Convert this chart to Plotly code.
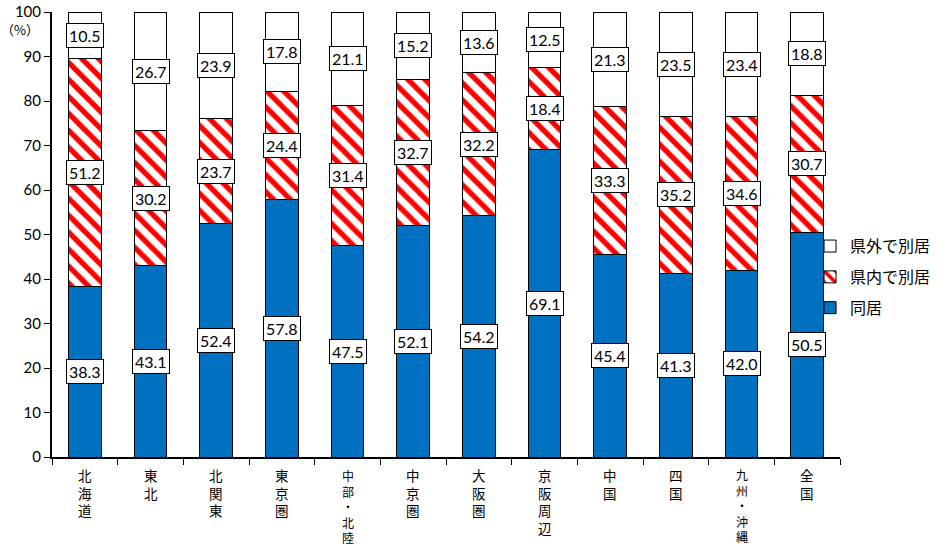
import plotly.graph_objects as go

regions = ["北海道", "東北", "北関東", "東京圏", "中部・北陸", "中京圏",
           "大阪圏", "京阪周辺", "中国", "四国", "九州・沖縄", "全国"]
living_together = [38.3, 43.1, 52.4, 57.8, 47.5, 52.1, 54.2, 69.1, 45.4, 41.3, 42.0, 50.5]
separate_in_pref = [51.2, 30.2, 23.7, 24.4, 31.4, 32.7, 32.2, 18.4, 33.3, 35.2, 34.6, 30.7]
separate_out_pref = [10.5, 26.7, 23.9, 17.8, 21.1, 15.2, 13.6, 12.5, 21.3, 23.5, 23.4, 18.8]
y_ticks = [0, 10, 20, 30, 40, 50, 60, 70, 80, 90, 100]

NUM_FONT = "Lato, Liberation Sans, sans-serif"
JP_FONT = "Noto Sans CJK JP, sans-serif"
# compact primary font for the stacked category labels (CJK glyphs fall back)
LABEL_FONT = "Liberation Sans, Noto Sans CJK JP, sans-serif"

fig = go.Figure()
line = dict(color="black", width=1)
fig.add_bar(x=regions, y=living_together, name="同居", legendgroup="a", legendrank=3,
            marker=dict(color="#0070C0", line=line))
fig.add_bar(x=regions, y=separate_in_pref, name="県内で別居", legendgroup="b", legendrank=2,
            marker=dict(color="white", line=line,
                        pattern=dict(shape="\\", fgcolor="#FF0000", bgcolor="white",
                                     size=12, solidity=0.45, fillmode="replace")))
fig.add_bar(x=regions, y=separate_out_pref, name="県外で別居", legendgroup="c", legendrank=1,
            marker=dict(color="white", line=line))

# boxed value labels at the middle of each segment
annotations = []
for i, r in enumerate(regions):
    base = 0.0
    for v in (living_together[i], separate_in_pref[i], separate_out_pref[i]):
        annotations.append(dict(
            x=r, y=base + v / 2, text=f"{v:.1f}", showarrow=False,
            font=dict(family=NUM_FONT, size=16, color="black"),
            bgcolor="white", bordercolor="black", borderwidth=1, borderpad=2,
            xref="x", yref="y"))
        base += v

# vertical category labels under the axis, one character per row
for r in regions:
    size = 12 if len(r) >= 5 else 13.5
    annotations.append(dict(
        x=r, y=0, xref="x", yref="paper", text="<br>".join(r), showarrow=False,
        xanchor="center", yanchor="top", yshift=-11, borderpad=0,
        font=dict(family=LABEL_FONT, size=size, color="black")))

annotations.append(dict(x=-0.04, y=96, xref="paper", yref="y", text="（%）",
                        showarrow=False, xanchor="center",
                        font=dict(family=JP_FONT, size=13, color="black")))

fig.update_layout(
    width=942, height=547,
    margin=dict(l=52, r=102, t=12, b=90, autoexpand=False),
    paper_bgcolor="white", plot_bgcolor="white",
    barmode="stack", bargap=0.5,
    annotations=annotations,
    showlegend=True,
    legend=dict(x=0.962, y=0.512, xanchor="left", yanchor="top",
                traceorder="grouped", tracegroupgap=7,
                font=dict(family=JP_FONT, size=16, color="black"),
                bgcolor="rgba(0,0,0,0)"),
)
fig.update_xaxes(
    tickmode="array", tickvals=regions, showticklabels=False,
    tickson="boundaries", ticks="outside", ticklen=6, tickcolor="black",
    showline=True, linecolor="black", linewidth=2,
    showgrid=False, automargin=False,
)
fig.update_yaxes(
    range=[0, 100], tickvals=y_ticks, ticks="outside", ticklen=6,
    tickcolor="black", showline=True, linecolor="black", linewidth=2,
    tickfont=dict(family=NUM_FONT, size=15, color="black"),
    showgrid=False, zeroline=False, automargin=False,
)

fig.write_html("out.html")
